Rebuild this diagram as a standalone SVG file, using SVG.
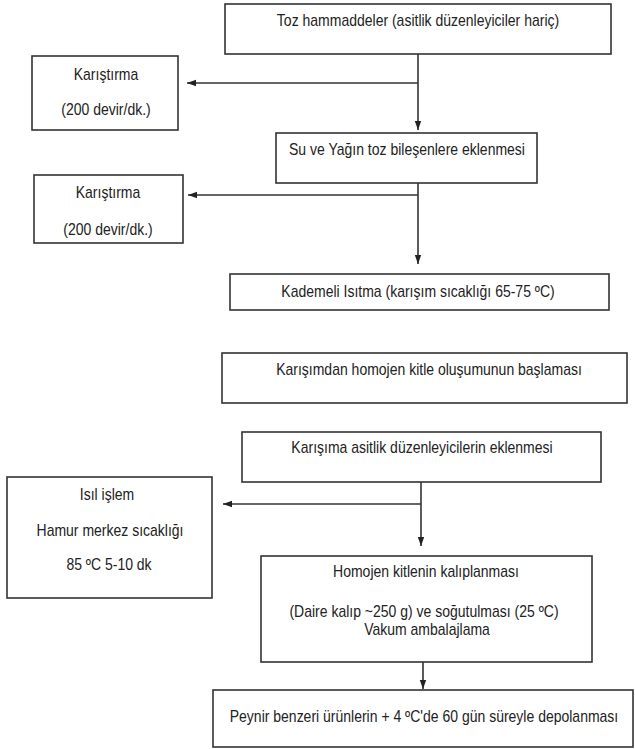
<svg xmlns="http://www.w3.org/2000/svg" width="635" height="749" viewBox="0 0 635 749">
<style>
.box{fill:#fff;stroke:#333;stroke-width:1.6}
.t{font-family:"Liberation Sans",Arial,sans-serif;font-size:14px;fill:#222;text-anchor:middle}
.c{fill:none;stroke:#333;stroke-width:1.6}
</style>
<defs>
<marker id="ah" markerWidth="10" markerHeight="8" refX="9" refY="4" orient="auto" markerUnits="userSpaceOnUse">
<path d="M0,0.8 L9,4 L0,7.2 Z" fill="#222"/>
</marker>
</defs>
<rect width="635" height="749" fill="#fff"/>
<g id="connectors">
<line class="c" x1="418" y1="54" x2="418" y2="130" marker-end="url(#ah)"/>
<line class="c" x1="418" y1="83" x2="187" y2="83" marker-end="url(#ah)"/>
<line class="c" x1="418" y1="183" x2="418" y2="264" marker-end="url(#ah)"/>
<line class="c" x1="418" y1="195" x2="188" y2="195" marker-end="url(#ah)"/>
<line class="c" x1="421" y1="470" x2="421" y2="546" marker-end="url(#ah)"/>
<line class="c" x1="421" y1="504" x2="223" y2="504" marker-end="url(#ah)"/>
<line class="c" x1="423" y1="662" x2="423" y2="689" marker-end="url(#ah)"/>
</g>
<g id="n1"><rect class="box" x="225" y="4" width="386" height="50"/><text class="t" transform="translate(418,26) scale(1,1.15)">Toz hammaddeler (asitlik düzenleyiciler hariç)</text></g>
<g id="n2"><rect class="box" x="32" y="56" width="146" height="74"/><text class="t" transform="translate(106,80) scale(1,1.15)">Karıştırma</text><text class="t" transform="translate(106,115) scale(1,1.15)">(200 devir/dk.)</text></g>
<g id="n3"><rect class="box" x="276" y="133" width="261" height="50"/><text class="t" transform="translate(407,155) scale(1,1.15)">Su ve Yağın toz bileşenlere eklenmesi</text></g>
<g id="n4"><rect class="box" x="34" y="175" width="149" height="68"/><text class="t" transform="translate(108,198) scale(1,1.15)">Karıştırma</text><text class="t" transform="translate(108,235) scale(1,1.15)">(200 devir/dk.)</text></g>
<g id="n5"><rect class="box" x="230" y="274" width="379" height="36"/><text class="t" transform="translate(418,297) scale(1,1.15)">Kademeli Isıtma (karışım sıcaklığı 65-75 ºC)</text></g>
<g id="n6"><rect class="box" x="222" y="353" width="405" height="50"/><text class="t" transform="translate(429,375) scale(1,1.15)">Karışımdan homojen kitle oluşumunun başlaması</text></g>
<g id="n7"><rect class="box" x="242" y="432" width="359" height="50"/><text class="t" transform="translate(422,453) scale(1,1.15)">Karışıma asitlik düzenleyicilerin eklenmesi</text></g>
<g id="n8"><rect class="box" x="7" y="477" width="205" height="121"/><text class="t" transform="translate(107,500) scale(1,1.15)">Isıl işlem</text><text class="t" transform="translate(110,536) scale(1,1.15)">Hamur merkez sıcaklığı</text><text class="t" transform="translate(109,570) scale(1,1.15)">85 ºC 5-10 dk</text></g>
<g id="n9"><rect class="box" x="261" y="556" width="331" height="106"/><text class="t" transform="translate(426,577) scale(1,1.15)">Homojen kitlenin kalıplanması</text><text class="t" transform="translate(424,617) scale(1,1.15)">(Daire kalıp ~250 g) ve soğutulması (25 ºC)</text><text class="t" transform="translate(427,635) scale(1,1.15)">Vakum ambalajlama</text></g>
<g id="n10"><rect class="box" x="213" y="690" width="420" height="57"/><text class="t" transform="translate(424,722) scale(1,1.15)">Peynir benzeri ürünlerin + 4 ºC'de 60 gün süreyle depolanması</text></g>
</svg>
